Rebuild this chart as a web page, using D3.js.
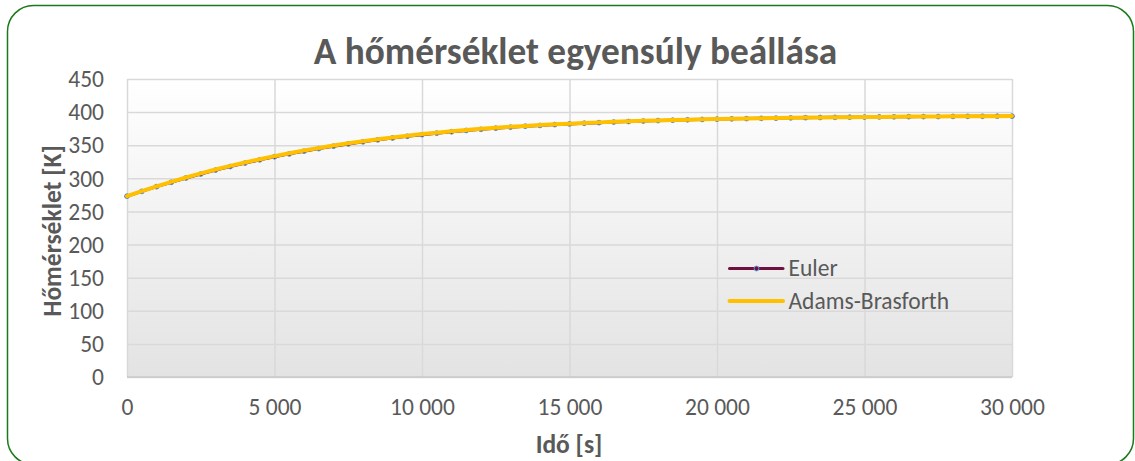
<!DOCTYPE html>
<html>
<head>
<meta charset="utf-8">
<script src="https://cdn.jsdelivr.net/npm/d3@7"></script>
<style>
  html, body { margin: 0; padding: 0; background: #fff; }
  svg { display: block; font-family: Carlito, Lato, "Open Sans", sans-serif; }
</style>
</head>
<body>
<svg id="chart" width="1135" height="461"></svg>
<script>
// Time steps [s]
const times = [0, 500, 1000, 1500, 2000, 2500, 3000, 3500, 4000, 4500,
  5000, 5500, 6000, 6500, 7000, 7500, 8000, 8500, 9000, 9500,
  10000, 10500, 11000, 11500, 12000, 12500, 13000, 13500, 14000, 14500,
  15000, 15500, 16000, 16500, 17000, 17500, 18000, 18500, 19000, 19500,
  20000, 20500, 21000, 21500, 22000, 22500, 23000, 23500, 24000, 24500,
  25000, 25500, 26000, 26500, 27000, 27500, 28000, 28500, 29000, 29500, 30000];

// Temperature [K], explicit Euler
const euler = [273.0, 280.3, 287.4, 294.0, 300.5, 306.5, 312.4, 317.8, 323.0, 327.9,
  332.6, 336.9, 341.0, 344.9, 348.5, 351.9, 355.1, 358.1, 360.9, 363.5,
  365.9, 368.2, 370.3, 372.3, 374.0, 375.7, 377.2, 378.7, 379.9, 381.1,
  382.1, 383.2, 384.1, 385.0, 385.8, 386.5, 387.2, 387.8, 388.4, 388.9,
  389.4, 389.8, 390.2, 390.6, 390.9, 391.3, 391.6, 391.9, 392.1, 392.3,
  392.5, 392.7, 392.9, 393.1, 393.2, 393.3, 393.5, 393.6, 393.7, 393.8, 393.9];

// Temperature [K], Adams-Bashforth
const adams = [273.0, 280.6, 287.9, 294.7, 301.3, 307.4, 313.3, 318.8, 324.0, 328.9,
  333.6, 337.9, 342.0, 345.9, 349.5, 352.9, 356.1, 359.0, 361.8, 364.4,
  366.8, 369.0, 371.1, 373.0, 374.7, 376.3, 377.8, 379.2, 380.4, 381.6,
  382.6, 383.6, 384.5, 385.4, 386.1, 386.8, 387.5, 388.1, 388.6, 389.1,
  389.6, 390.0, 390.4, 390.8, 391.1, 391.4, 391.7, 392.0, 392.2, 392.4,
  392.6, 392.8, 393.0, 393.2, 393.3, 393.4, 393.6, 393.7, 393.8, 393.9, 394.0];

const xTicks = [0, 5000, 10000, 15000, 20000, 25000, 30000];
const yTicks = [0, 50, 100, 150, 200, 250, 300, 350, 400, 450];
const seriesNames = ["Euler", "Adams-Brasforth"];
const titleText = "A hőmérséklet egyensúly beállása";
const xTitle = "Idő [s]";
const yTitle = "Hőmérséklet [K]";

const svg = d3.select("#chart");
const plot = { left: 127, right: 1012, top: 79, bottom: 377 };

const x = d3.scaleLinear().domain([0, 30000]).range([plot.left, plot.right]);
const y = d3.scaleLinear().domain([0, 450]).range([plot.bottom, plot.top]);

const textColor = "#595959";
const tickSize = 23.5;
const fmt = v => d3.format(",")(v).replace(/,/g, "\u00a0");

// plot area background gradient
const defs = svg.append("defs");
const grad = defs.append("linearGradient").attr("id", "plotBg")
  .attr("x1", 0).attr("y1", 0).attr("x2", 0).attr("y2", 1);
grad.append("stop").attr("offset", "0%").attr("stop-color", "#ffffff");
grad.append("stop").attr("offset", "100%").attr("stop-color", "#e3e3e3");

svg.append("rect")
  .attr("x", plot.left).attr("y", plot.top)
  .attr("width", plot.right - plot.left).attr("height", plot.bottom - plot.top)
  .attr("fill", "url(#plotBg)");

// gridlines
const gy = svg.append("g")
  .attr("transform", `translate(${plot.left},0)`)
  .call(d3.axisLeft(y).tickValues(yTicks).tickSize(-(plot.right - plot.left)).tickFormat(""));
gy.select(".domain").remove();
gy.selectAll("line").attr("stroke", "#d9d9d9").attr("stroke-width", 1.5);

const gx = svg.append("g")
  .attr("transform", `translate(0,${plot.bottom})`)
  .call(d3.axisBottom(x).tickValues(xTicks).tickSize(-(plot.bottom - plot.top)).tickFormat(""));
gx.select(".domain").remove();
gx.selectAll("line").attr("stroke", "#d9d9d9").attr("stroke-width", 1.5);

// bottom axis line
svg.append("line")
  .attr("x1", plot.left).attr("x2", plot.right)
  .attr("y1", plot.bottom).attr("y2", plot.bottom)
  .attr("stroke", "#c8c8c8").attr("stroke-width", 1.5);

// y tick labels
const yAxis = svg.append("g")
  .attr("transform", `translate(${plot.left},0)`)
  .call(d3.axisLeft(y).tickValues(yTicks).tickSize(0).tickPadding(23).tickFormat(d3.format("d")));
yAxis.select(".domain").remove();
yAxis.selectAll("text").attr("fill", textColor).attr("font-size", tickSize)
  .attr("font-family", "Carlito, Lato, sans-serif").attr("dy", "0.33em");

// x tick labels
const xAxis = svg.append("g")
  .attr("transform", `translate(0,${plot.bottom})`)
  .call(d3.axisBottom(x).tickValues(xTicks).tickSize(0).tickPadding(0).tickFormat(fmt));
xAxis.select(".domain").remove();
xAxis.selectAll("text").attr("fill", textColor).attr("font-size", tickSize)
  .attr("font-family", "Carlito, Lato, sans-serif").attr("dy", null).attr("y", 38);

// series
const eulerData = times.map((t, i) => [t, euler[i]]);
const adamsData = times.map((t, i) => [t, adams[i]]);
const line = d3.line().x(d => x(d[0])).y(d => y(d[1]));

svg.append("path").datum(eulerData)
  .attr("fill", "none").attr("stroke", "#6e1040").attr("stroke-width", 3)
  .attr("stroke-linejoin", "round").attr("d", line);

svg.append("g").selectAll("circle").data(eulerData).join("circle")
  .attr("cx", d => x(d[0])).attr("cy", d => y(d[1])).attr("r", 2.4)
  .attr("fill", "#6e1040").attr("stroke", "#5b9bd5").attr("stroke-width", 1);

svg.append("path").datum(adamsData)
  .attr("fill", "none").attr("stroke", "#ffc000").attr("stroke-width", 4)
  .attr("stroke-linejoin", "round").attr("stroke-linecap", "round").attr("d", line);

// legend
const legend = svg.append("g");
const legY = [268.5, 301];
legend.append("line").attr("x1", 729.5).attr("x2", 783).attr("y1", legY[0]).attr("y2", legY[0])
  .attr("stroke", "#6e1040").attr("stroke-width", 3).attr("stroke-linecap", "round");
legend.append("circle").attr("cx", 756.5).attr("cy", legY[0]).attr("r", 2.4)
  .attr("fill", "#6e1040").attr("stroke", "#5b9bd5").attr("stroke-width", 1);
legend.append("line").attr("x1", 729.5).attr("x2", 783).attr("y1", legY[1]).attr("y2", legY[1])
  .attr("stroke", "#ffc000").attr("stroke-width", 4).attr("stroke-linecap", "round");
legend.selectAll("text.leg").data(seriesNames).join("text")
  .attr("class", "leg")
  .attr("x", 788.5).attr("y", (d, i) => legY[i] + 7.5)
  .attr("fill", textColor).attr("font-size", tickSize).text(d => d);

// titles
svg.append("text").attr("x", 575.5).attr("y", 64).attr("text-anchor", "middle")
  .attr("fill", textColor).attr("font-size", 37.3).attr("font-weight", "bold").text(titleText);
svg.append("text").attr("x", 569).attr("y", 453).attr("text-anchor", "middle")
  .attr("fill", textColor).attr("font-size", 25.5).attr("font-weight", "bold").text(xTitle);
svg.append("text").attr("transform", "translate(61,231) rotate(-90)").attr("text-anchor", "middle")
  .attr("fill", textColor).attr("font-size", 25.5).attr("font-weight", "bold").text(yTitle);

// chart border
svg.append("rect").attr("x", 7.5).attr("y", 5.5).attr("width", 1126).attr("height", 459)
  .attr("rx", 26).attr("ry", 26)
  .attr("fill", "none").attr("stroke", "#1a7a1a").attr("stroke-width", 1.5);
</script>
</body>
</html>
